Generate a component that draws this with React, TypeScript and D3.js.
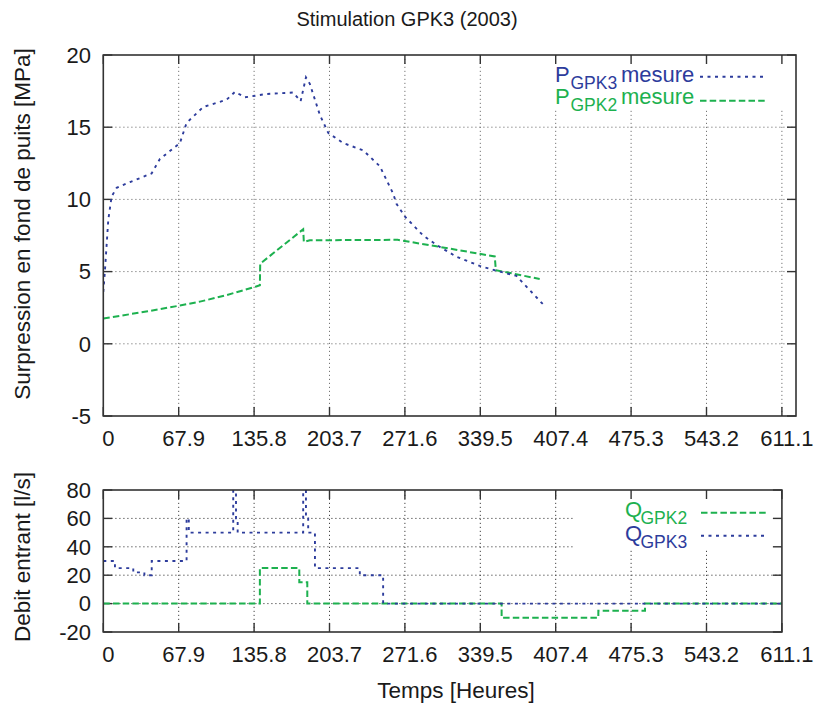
import React from "react";
import * as d3 from "d3";

// ---------- data ----------
const xTickValues = [0, 67.9, 135.8, 203.7, 271.6, 339.5, 407.4, 475.3, 543.2, 611.1];
const pTickValues = [-5, 0, 5, 10, 15, 20];
const qTickValues = [-20, 0, 20, 40, 60, 80];

const pGpk3Time = [0, 1.5, 4.5, 7.5, 12, 24, 43.5, 51, 69, 75, 90, 111, 118.6, 127.6, 147, 171, 177.7, 182.5, 186, 195, 202.6, 216, 234, 249, 261, 264, 271.7, 288, 300, 318, 339, 354, 372, 384, 395.7];
const pGpk3Value = [3.6, 5.1, 8.6, 10.2, 10.8, 11.2, 11.8, 12.8, 13.9, 15.3, 16.4, 16.9, 17.45, 17.07, 17.3, 17.4, 16.8, 18.45, 18.0, 15.85, 14.6, 13.9, 13.4, 12.3, 10.4, 9.7, 8.8, 7.5, 6.85, 6.03, 5.39, 5.06, 4.7, 3.72, 2.76];

const pGpk2Time = [0, 40, 69, 87, 110, 137, 141, 141.3, 180, 180.6, 186, 265, 300, 352.5, 353.5, 393];
const pGpk2Value = [1.75, 2.25, 2.65, 2.92, 3.35, 3.95, 4.05, 5.55, 7.93, 7.05, 7.17, 7.2, 6.75, 6.05, 5.1, 4.49];

const qGpk3Time = [0, 10.5, 27, 37, 43.6, 75, 77, 117, 119.5, 121, 180, 182.5, 184.5, 190.6, 231, 252, 611.1];
const qGpk3Value = [30, 25, 22, 20, 30, 60, 50, 90, 60, 50, 90, 60, 50, 25, 20, 0, 0];

const qGpk2Time = [0, 141, 176.5, 183.7, 358.7, 445.8, 487.8, 611.1];
const qGpk2Value = [0, 25, 15, 0, -10, -5, 0, 0];

// ---------- style ----------
const BLUE = "#2d3c9c";
const GREEN = "#1db14f";
const FRAME = "#333";
const FONT = "'Liberation Sans', Arial, Helvetica, sans-serif";

const X0 = 103.3;
const PX_PER_UNIT = 75.4 / 67.9;
const topRight = 796;
const botRight = X0 + 611.1 * PX_PER_UNIT;

const xTop = d3.scaleLinear().domain([0, (topRight - X0) / PX_PER_UNIT]).range([X0, topRight]);
const xBot = d3.scaleLinear().domain([0, 611.1]).range([X0, botRight]);
const yTop = d3.scaleLinear().domain([-5, 20]).range([416, 55]);
const yBot = d3.scaleLinear().domain([-20, 80]).range([632, 490]);

const zip = (t: number[], v: number[]) => t.map((d, i) => [d, v[i]] as [number, number]);

function Panel({ x, y, ticksY, legendBox, gridColor, tickLen = 9 }: any) {
  const [x0, x1] = x.range();
  const [y0, y1] = y.range(); // bottom, top
  return (
    <g>
      {xTickValues.filter((t) => x(t) > x0 + 1 && x(t) < x1 - 1).map((t) => (
        <line key={"gx" + t} x1={x(t)} x2={x(t)} y1={y0} y2={y1} stroke={gridColor} strokeWidth={1} strokeDasharray="1.2,2.8" />
      ))}
      {ticksY.filter((t: number) => y(t) < y0 - 1 && y(t) > y1 + 1).map((t: number) => (
        <line key={"gy" + t} x1={x0} x2={x1} y1={y(t)} y2={y(t)} stroke={gridColor} strokeWidth={1} strokeDasharray="1.2,2.8" />
      ))}
      <rect x={legendBox[0]} y={legendBox[1]} width={legendBox[2]} height={legendBox[3]} fill="white" />
      {xTickValues.map((t) => (
        <g key={"tx" + t}>
          <line x1={x(t)} x2={x(t)} y1={y0} y2={y0 - tickLen} stroke={FRAME} strokeWidth={1.4} />
          <line x1={x(t)} x2={x(t)} y1={y1} y2={y1 + tickLen} stroke={FRAME} strokeWidth={1.4} />
        </g>
      ))}
      {ticksY.map((t: number) => (
        <g key={"ty" + t}>
          <line x1={x0} x2={x0 + tickLen} y1={y(t)} y2={y(t)} stroke={FRAME} strokeWidth={1.4} />
          <line x1={x1} x2={x1 - tickLen} y1={y(t)} y2={y(t)} stroke={FRAME} strokeWidth={1.4} />
        </g>
      ))}
      {ticksY.map((t: number) => (
        <text key={"ly" + t} x={91} y={y(t)} dy="0.35em" textAnchor="end" fontSize={22} fill="#1a1a1a">{t}</text>
      ))}
      {xTickValues.map((t) => (
        <text key={"lx" + t} x={x(t) + 5} y={y0 + 22} dy="0.35em" textAnchor="middle" fontSize={22} fill="#1a1a1a">{t}</text>
      ))}
    </g>
  );
}

function LegendLabel({ x, y, main, sub, rest, color }: any) {
  return (
    <g fill={color}>
      <text x={x} y={y} fontSize={22}>{main}</text>
      <text x={x + 15.5} y={y + 6.5} fontSize={17.5}>{sub}</text>
      {rest ? <text x={621} y={y} fontSize={22}>{rest}</text> : null}
    </g>
  );
}

export default function App() {
  const lineTop = d3.line<[number, number]>().x((d) => xTop(d[0])).y((d) => yTop(d[1]));
  const lineBot = d3.line<[number, number]>().x((d) => xBot(d[0])).y((d) => yBot(d[1])).curve(d3.curveStepAfter);

  return (
    <svg width={814} height={703} style={{ position: "absolute", left: 0, top: 0, background: "white" }} fontFamily={FONT}>
      <defs>
        <clipPath id="clipTop"><rect x={X0} y={55} width={topRight - X0} height={361} /></clipPath>
        <clipPath id="clipBot"><rect x={X0} y={490} width={botRight - X0} height={142} /></clipPath>
      </defs>
      <rect width={814} height={703} fill="white" />
      <text x={407} y={26} textAnchor="middle" fontSize={20} fill="#1a1a1a">Stimulation GPK3 (2003)</text>

      <Panel x={xTop} y={yTop} ticksY={pTickValues} legendBox={[545, 56, 245, 54]} gridColor="#777" />
      <Panel x={xBot} y={yBot} ticksY={qTickValues} legendBox={[575, 491, 206, 59]} gridColor="#444" />

      <g clipPath="url(#clipTop)">
        <path d={lineTop(zip(pGpk2Time, pGpk2Value)) || ""} fill="none" stroke={GREEN} strokeWidth={2} strokeDasharray="6.5,3.2" />
        <path d={lineTop(zip(pGpk3Time, pGpk3Value)) || ""} fill="none" stroke={BLUE} strokeWidth={1.9} strokeDasharray="3,4.5" />
      </g>
      <g clipPath="url(#clipBot)">
        <path d={lineBot(zip(qGpk2Time, qGpk2Value)) || ""} fill="none" stroke={GREEN} strokeWidth={2} strokeDasharray="6.5,3.2" />
        <path d={lineBot(zip(qGpk3Time, qGpk3Value)) || ""} fill="none" stroke={BLUE} strokeWidth={1.9} strokeDasharray="3,4.5" />
      </g>

      <rect x={X0} y={55} width={topRight - X0} height={361} fill="none" stroke={FRAME} strokeWidth={1.6} />
      <rect x={X0} y={490} width={botRight - X0} height={142} fill="none" stroke={FRAME} strokeWidth={1.6} />

      <LegendLabel x={555} y={82} main="P" sub="GPK3" rest="mesure" color={BLUE} />
      <line x1={700} x2={765} y1={76.7} y2={76.7} stroke={BLUE} strokeWidth={1.9} strokeDasharray="3,4.5" />
      <LegendLabel x={555} y={104} main="P" sub="GPK2" rest="mesure" color={GREEN} />
      <line x1={700} x2={767} y1={100.7} y2={100.7} stroke={GREEN} strokeWidth={2} strokeDasharray="6.5,3.2" />

      <LegendLabel x={625} y={517} main="Q" sub="GPK2" color={GREEN} />
      <line x1={701} x2={767} y1={512.7} y2={512.7} stroke={GREEN} strokeWidth={2} strokeDasharray="6.5,3.2" />
      <LegendLabel x={625} y={541} main="Q" sub="GPK3" color={BLUE} />
      <line x1={701} x2={764} y1={535.7} y2={535.7} stroke={BLUE} strokeWidth={1.9} strokeDasharray="3,4.5" />

      <text transform="translate(30,224) rotate(-90)" textAnchor="middle" fontSize={22.5} fill="#1a1a1a">Surpression en fond de puits [MPa]</text>
      <text transform="translate(30,557) rotate(-90)" textAnchor="middle" fontSize={22.5} fill="#1a1a1a">Debit entrant [l/s]</text>
      <text x={456} y={698} textAnchor="middle" fontSize={22.5} fill="#1a1a1a">Temps [Heures]</text>
    </svg>
  );
}
